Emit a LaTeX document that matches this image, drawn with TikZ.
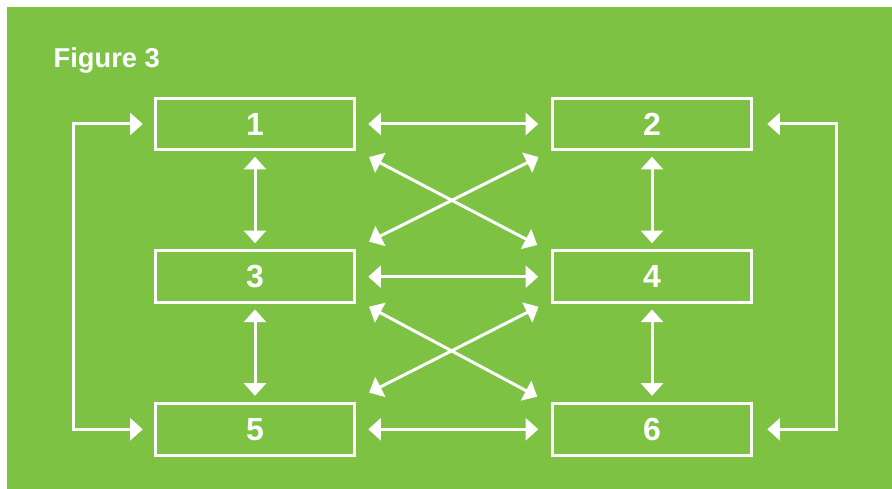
\documentclass[tikz,border=0pt]{standalone}
\usepackage{fontspec}
\setmainfont{Liberation Sans}
\usetikzlibrary{arrows.meta}
\definecolor{bggreen}{HTML}{7DC242}
\tikzset{
  box/.style={draw=white, line width=3pt, minimum width=198.5pt, minimum height=51.5pt, inner sep=0pt, text=white, font=\bfseries\fontsize{32}{32}\selectfont},
  link/.style={draw=white, line width=3pt, {Triangle[length=12.7pt,width=22pt]}-{Triangle[length=12.7pt,width=22pt]}},
}
\begin{document}
\begin{tikzpicture}[x=1pt,y=-1pt]
\useasboundingbox (0,0) rectangle (892,489);
\fill[bggreen] (7,7) rectangle (892,489);
\node[anchor=base west, text=white, font=\bfseries\fontsize{27.3}{27.3}\selectfont, inner sep=0pt] (title) at (53.5,67.3) {Figure 3};
\node[box] (b1) at (255,124) {1};
\node[box] (b2) at (652,124) {2};
\node[box] (b3) at (255,276.7) {3};
\node[box] (b4) at (652,276.7) {4};
\node[box] (b5) at (255,429.3) {5};
\node[box] (b6) at (652,429.3) {6};
\coordinate (L) at (73.3,276.7);
\coordinate (R) at (836.7,276.7);
% loops
\draw[link, shorten <=11.5pt, shorten >=11.5pt] (b1.west) -| (L) |- (b5.west);
\draw[link, shorten <=14.5pt, shorten >=14.5pt] (b2.east) -| (R) |- (b6.east);
% horizontal
\draw[link, shorten <=12.5pt, shorten >=13pt] (b1.east) -- (b2.west);
\draw[link, shorten <=12.5pt, shorten >=13pt] (b3.east) -- (b4.west);
\draw[link, shorten <=12.5pt, shorten >=13pt] (b5.east) -- (b6.west);
% vertical
\draw[link, shorten <=5.5pt, shorten >=6.2pt] (b1.south) -- (b3.north);
\draw[link, shorten <=5.5pt, shorten >=6.2pt] (b3.south) -- (b5.north);
\draw[link, shorten <=5.5pt, shorten >=6.2pt] (b2.south) -- (b4.north);
\draw[link, shorten <=5.5pt, shorten >=6.2pt] (b4.south) -- (b6.north);
% diagonals
\draw[link] ([shift={(13.3,5.8)}]b1.south east) -- ([shift={(-14,-4.5)}]b4.north west);
\draw[link] ([shift={(-12.7,5.8)}]b2.south west) -- ([shift={(13.3,-7.8)}]b3.north east);
\draw[link] ([shift={(13.3,2.8)}]b3.south east) -- ([shift={(-14,-5.4)}]b6.north west);
\draw[link] ([shift={(-12.7,2.8)}]b4.south west) -- ([shift={(13.3,-9.4)}]b5.north east);
\end{tikzpicture}
\end{document}
